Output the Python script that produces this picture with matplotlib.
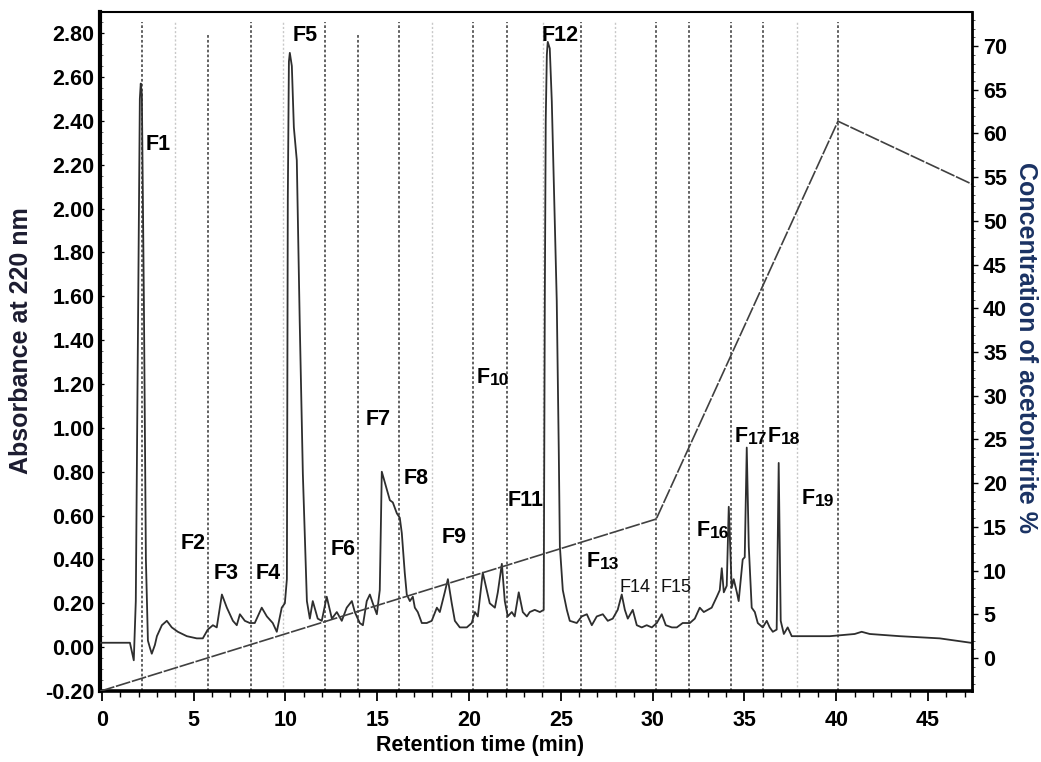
import matplotlib
matplotlib.use('Agg')
import matplotlib.pyplot as plt
from matplotlib.ticker import MultipleLocator, FormatStrFormatter

plt.rcParams['font.family'] = ['Liberation Sans', 'DejaVu Sans']
plt.rcParams['font.weight'] = 'bold'

# ---- chromatogram (retention time in min, absorbance at 220 nm) ----
time_min = [-0.1, 1.53, 1.74, 1.85, 1.96, 2.07, 2.12, 2.18, 2.29, 2.40, 2.51, 2.61, 2.72, 2.89, 3.00,
            3.27, 3.54, 3.81, 4.14, 4.63, 5.17, 5.50, 5.77, 6.05, 6.26, 6.54, 6.81, 7.14, 7.35, 7.52,
            7.79, 8.06, 8.33, 8.71, 8.99, 9.31, 9.53, 9.80, 9.97, 10.08, 10.13, 10.19, 10.24, 10.35,
            10.46, 10.62, 10.78, 10.95, 11.17, 11.33, 11.49, 11.76, 11.98, 12.25, 12.53, 12.80, 13.07,
            13.34, 13.62, 13.78, 14.05, 14.22, 14.43, 14.60, 14.76, 14.98, 15.14, 15.25, 15.52, 15.69,
            15.85, 16.07, 16.23, 16.34, 16.50, 16.61, 16.78, 16.94, 17.05, 17.21, 17.43, 17.70, 17.97,
            18.25, 18.41, 18.68, 18.85, 19.06, 19.23, 19.50, 19.88, 20.15, 20.32, 20.48, 20.75, 20.97,
            21.13, 21.41, 21.57, 21.79, 21.95, 22.11, 22.33, 22.49, 22.71, 22.93, 23.15, 23.31, 23.58,
            23.86, 24.07, 24.13, 24.18, 24.24, 24.29, 24.40, 24.51, 24.67, 24.78, 24.89, 24.95, 25.11,
            25.33, 25.49, 25.87, 26.14, 26.42, 26.69, 26.96, 27.29, 27.56, 27.83, 28.10, 28.32, 28.49,
            28.65, 28.92, 29.14, 29.41, 29.68, 29.96, 30.23, 30.50, 30.72, 31.05, 31.32, 31.64, 32.03,
            32.30, 32.57, 32.79, 33.01, 33.22, 33.50, 33.66, 33.77, 33.88, 34.04, 34.15, 34.31, 34.42,
            34.59, 34.69, 34.91, 35.02, 35.13, 35.24, 35.40, 35.57, 35.73, 36.00, 36.22, 36.38, 36.55,
            36.76, 36.87, 36.98, 37.15, 37.36, 37.58, 37.85, 39.65, 41.01, 41.39, 41.83, 43.46, 45.64,
            47.33]
absorbance = [0.02, 0.02, -0.06, 0.21, 1.35, 2.50, 2.57, 2.52, 1.58, 0.40, 0.03, 0.00, -0.03, 0.01, 0.05,
              0.10, 0.12, 0.09, 0.07, 0.05, 0.04, 0.04, 0.08, 0.10, 0.09, 0.24, 0.18, 0.12, 0.10, 0.15,
              0.12, 0.11, 0.11, 0.18, 0.14, 0.11, 0.07, 0.18, 0.20, 0.31, 2.04, 2.67, 2.71, 2.65,
              2.37, 2.22, 1.48, 0.79, 0.21, 0.13, 0.21, 0.13, 0.12, 0.23, 0.13, 0.16, 0.12,
              0.18, 0.21, 0.16, 0.11, 0.10, 0.21, 0.24, 0.20, 0.15, 0.26, 0.80, 0.72, 0.67,
              0.66, 0.61, 0.59, 0.52, 0.34, 0.24, 0.21, 0.23, 0.18, 0.16, 0.11, 0.11, 0.12,
              0.18, 0.16, 0.25, 0.31, 0.20, 0.12, 0.09, 0.09, 0.11, 0.16, 0.14, 0.34, 0.26,
              0.20, 0.18, 0.25, 0.38, 0.21, 0.14, 0.16, 0.14, 0.25, 0.16, 0.14, 0.16, 0.17,
              0.16, 0.17, 1.58, 2.40, 2.70, 2.76, 2.73, 2.49, 1.95, 1.58, 0.90, 0.46, 0.26,
              0.17, 0.12, 0.11, 0.14, 0.15, 0.10, 0.14, 0.15, 0.12, 0.13, 0.17, 0.24, 0.17,
              0.13, 0.17, 0.10, 0.09, 0.10, 0.09, 0.11, 0.15, 0.10, 0.09, 0.09, 0.11, 0.11,
              0.13, 0.18, 0.16, 0.17, 0.18, 0.23, 0.26, 0.36, 0.25, 0.28, 0.64, 0.27, 0.31,
              0.25, 0.21, 0.40, 0.41, 0.91, 0.46, 0.18, 0.16, 0.11, 0.09, 0.12, 0.09, 0.07,
              0.08, 0.84, 0.12, 0.06, 0.09, 0.05, 0.05, 0.05, 0.06, 0.07, 0.06, 0.05, 0.04,
              0.02]

# ---- acetonitrile gradient (%) ----
gradient_time = [-0.1, 30.2, 40.1, 47.4]
gradient_pct = [-3.8, 15.9, 61.4, 54.2]

# ---- fraction cut lines ----
cut_time = [2.18, 3.98, 5.77, 8.12, 9.86, 12.15, 13.94, 16.18, 17.97, 20.2,
            22.06, 24.02, 26.09, 27.94, 30.17, 31.97, 34.26, 36.0, 37.85, 40.09]
cut_light = [False, True, False, False, True, False, False, False, True, False,
             False, True, False, True, False, False, False, False, True, False]
cut_top = [2.85, 2.85, 2.80, 2.85, 2.85, 2.85, 2.80, 2.85, 2.85, 2.85,
           2.85, 2.85, 2.85, 2.85, 2.85, 2.85, 2.85, 2.85, 2.85, 2.85]

# ---- fraction labels ----
label_names = ['F1', 'F2', 'F3', 'F4', 'F5', 'F6', 'F7', 'F8', 'F9', 'F11', 'F12']
label_t = [3.05, 4.95, 6.75, 9.04, 11.06, 13.12, 15.03, 17.10, 19.17, 23.09, 24.95]
label_a = [2.29, 0.474, 0.338, 0.338, 2.79, 0.447, 1.04, 0.77, 0.50, 0.67, 2.79]
split_digits = ['10', '13', '16', '17', '18', '19']
split_t = [20.42, 26.41, 32.40, 34.48, 36.27, 38.12]
split_a = [1.23, 0.39, 0.53, 0.96, 0.96, 0.68]
small_names = ['F14', 'F15']
small_t = [28.21, 30.44]
small_a = [0.27, 0.27]

W, H = 1041, 762
fig = plt.figure(figsize=(W / 100, H / 100), dpi=100)
L, R, B, T = 100, 972, 691, 12
ax = fig.add_axes([L / W, 1 - B / H, (R - L) / W, (B - T) / H])

ax.set_xlim(-0.1, 47.4)
ax.set_ylim(-0.2, -0.2 + (B - T) / 219.3)

for t, light, top in zip(cut_time, cut_light, cut_top):
    if light:
        ax.vlines(t, -0.2, top, colors='#c8c8c8', linewidth=1.0, linestyles=(0, (1.5, 1.5)), zorder=1)
    else:
        ax.vlines(t, -0.2, top, colors='#555555', linewidth=1.3, linestyles=(0, (1.5, 1.2)), zorder=1)

ax.plot(time_min, absorbance, color='#2e2e2e', linewidth=1.3, zorder=3)

for name, t, a in zip(label_names, label_t, label_a):
    ax.text(t, a, name, fontsize=15.5, fontweight='bold', ha='center', va='center', color='black', zorder=5)
for d, t, a in zip(split_digits, split_t, split_a):
    tf = ax.text(t, a, 'F', fontsize=15.5, fontweight='bold', ha='left', va='center', color='black', zorder=5)
    ax.annotate(d, xy=(1, 0), xycoords=tf, fontsize=12.5, fontweight='bold',
                ha='left', va='bottom', color='black', zorder=5)
for name, t, a in zip(small_names, small_t, small_a):
    ax.text(t, a, name, fontsize=13, fontweight='normal', ha='left', va='center', color='#111111', zorder=5)

ax.xaxis.set_major_locator(MultipleLocator(5))
ax.xaxis.set_minor_locator(MultipleLocator(1))
ax.yaxis.set_major_locator(MultipleLocator(0.2))
ax.yaxis.set_minor_locator(MultipleLocator(0.05))
ax.yaxis.set_major_formatter(FormatStrFormatter('%.2f'))
ax.tick_params(axis='x', which='major', direction='out', length=7, width=1.3, pad=7, labelsize=15.5)
ax.tick_params(axis='x', which='minor', direction='out', length=4, width=1.0)
ax.tick_params(axis='y', which='major', direction='in', length=3, width=0.9, pad=4, labelsize=15.5)
ax.tick_params(axis='y', which='minor', direction='in', length=2, width=0.6, color='#555555')
ax.spines['left'].set_linewidth(3.0)
ax.spines['bottom'].set_linewidth(2.6)
ax.spines['top'].set_linewidth(1.5)
ax.spines['right'].set_visible(False)

ax2 = ax.twinx()
ax2.set_ylim(-3.77, -3.77 + (B - T) / 8.743)
ax2.plot(gradient_time, gradient_pct, color='#404040', linewidth=1.2, linestyle=(0, (9, 1)), zorder=2)
ax2.yaxis.set_major_locator(MultipleLocator(5))
ax2.yaxis.set_minor_locator(MultipleLocator(1))
ax2.tick_params(axis='y', which='major', direction='out', length=4, width=1.0, pad=4, labelsize=15.5)
ax2.tick_params(axis='y', which='minor', direction='out', length=2, width=0.7, color='#555555')
for s in ['left', 'top', 'bottom']:
    ax2.spines[s].set_visible(False)
ax2.spines['right'].set_linewidth(2.0)

fig.text(480 / W, 1 - 746 / H, 'Retention time (min)', fontsize=15.5, fontweight='bold',
         ha='center', va='center', color='black')
fig.text(21 / W, 1 - 341 / H, 'Absorbance at 220 nm', fontsize=18, fontweight='bold',
         rotation=90, ha='center', va='center', color='#1c1c30')
fig.text(1026 / W, 1 - 348 / H, 'Concentration of acetonitrite %', fontsize=18, fontweight='bold',
         rotation=270, ha='center', va='center', color='#1a3263')

fig.savefig('out.png', dpi=100)
